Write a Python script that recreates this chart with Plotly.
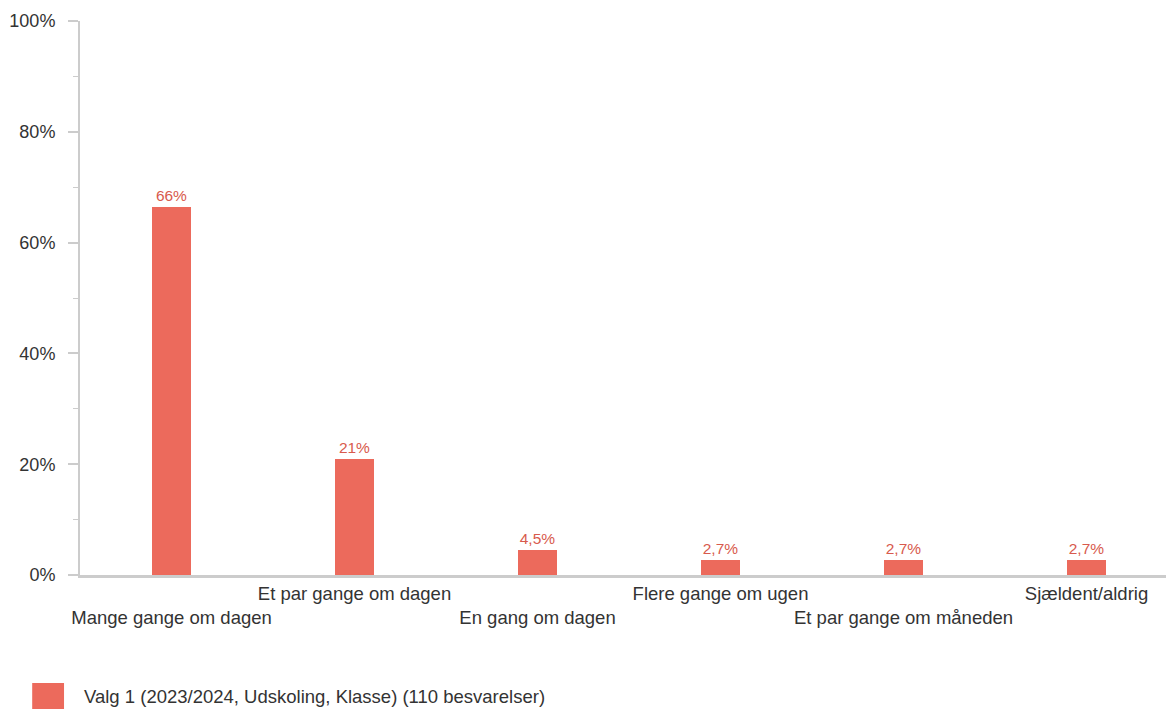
import plotly.graph_objects as go

categories = [
    "Mange gange om dagen",
    "Et par gange om dagen",
    "En gang om dagen",
    "Flere gange om ugen",
    "Et par gange om måneden",
    "Sjældent/aldrig",
]
percent = [66.4, 20.9, 4.5, 2.7, 2.7, 2.7]
series_name = "Valg 1 (2023/2024, Udskoling, Klasse) (110 besvarelser)"

BAR = "#EC6A5C"
LABEL = "#D85A4D"
GREY = "#CCCCCC"
TXT = "#333333"

# labels: two significant digits, Danish decimal comma
bar_text = [f"{v:.2g}".replace(".", ",") + "%" for v in percent]
# alternate tick labels on two rows
tick_text = [("<br>" + c) if i % 2 == 0 else c for i, c in enumerate(categories)]

fig = go.Figure(
    go.Bar(
        x=categories,
        y=percent,
        width=0.21,
        marker=dict(color=BAR, line=dict(width=0)),
        text=bar_text,
        textposition="outside",
        textfont=dict(color=LABEL, size=15.5),
        cliponaxis=False,
        hoverinfo="skip",
        showlegend=False,
    )
)

# page body has an 8px margin, so the figure is sized/offset to compensate
fig.update_layout(
    width=1166,
    height=701,
    margin=dict(l=72, r=0, t=13, b=134),
    paper_bgcolor="white",
    plot_bgcolor="white",
    font=dict(family="Liberation Sans, Arial, sans-serif", size=18, color=TXT),
    bargap=0,
)

fig.update_xaxes(
    tickmode="array",
    tickvals=categories,
    ticktext=tick_text,
    range=[-0.5, 5.478],  # original chart runs slightly past the window edge
    tickangle=0,
    automargin=False,
    showline=True,
    linecolor=GREY,
    linewidth=3,
    ticks="",
    showgrid=False,
    tickfont=dict(size=18.5, color=TXT),
    ticklabelstandoff=0,
)

fig.update_yaxes(
    range=[0, 100],
    dtick=20,
    ticksuffix="%",
    automargin=False,
    showline=True,
    linecolor=GREY,
    linewidth=2,
    ticks="outside",
    ticklen=10,
    tickcolor=GREY,
    tickwidth=2,
    minor=dict(dtick=10, ticks="outside", ticklen=5, tickcolor=GREY, tickwidth=1),
    showgrid=False,
    zeroline=False,
    tickfont=dict(size=18, color=TXT),
    ticklabelstandoff=9,
)

# legend swatch and text
fig.add_shape(
    type="rect", xref="paper", yref="paper",
    x0=-0.0437, x1=-0.0146, y0=-0.244, y1=-0.195,
    fillcolor=BAR, line=dict(width=0),
)
fig.add_annotation(
    xref="paper", yref="paper", x=0.0018, y=-0.220,
    text=series_name, showarrow=False,
    xanchor="left", yanchor="middle",
    font=dict(size=18.5, color=TXT),
)

fig.write_html("out.html")
